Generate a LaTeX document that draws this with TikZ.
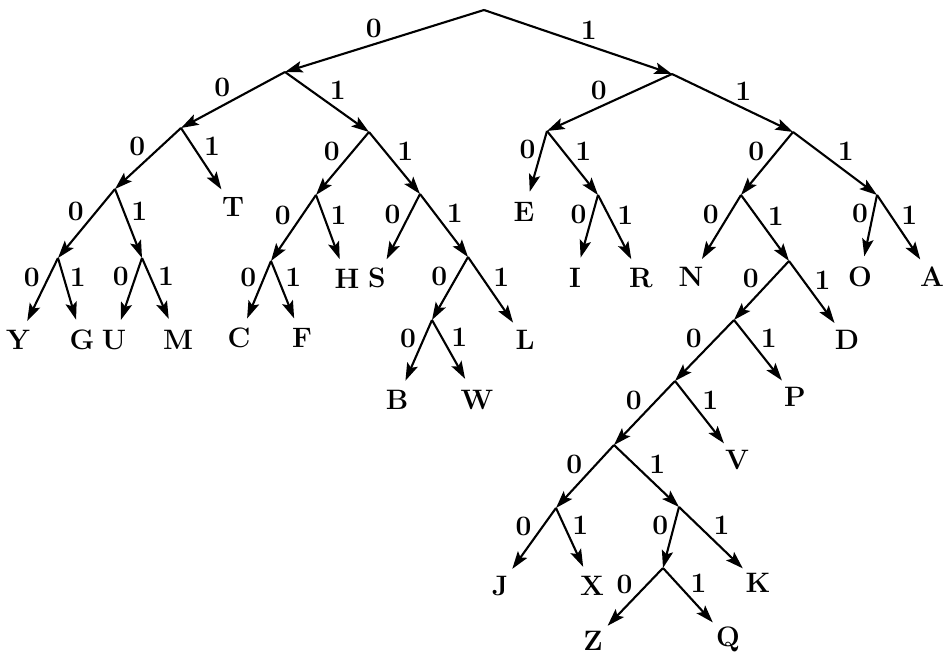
\documentclass[tikz,border=0pt]{standalone}
\usepackage{tikz}
\usetikzlibrary{arrows.meta}

\begin{document}
\begin{tikzpicture}[
    x=0.02cm, y=-0.02cm,
    every node/.style = {font=\fontsize{16}{18}\selectfont\bfseries},
    leaf/.style = {circle, inner sep=0pt, minimum size=18pt, outer sep=3pt},
    branch/.style = {draw=black, line width=1.2pt, -{Stealth[length=10pt, width=6.5pt, inset=2pt]}},
    zero/.style = {auto, swap, pos=0.5, inner sep=1pt},
    one/.style = {auto, pos=0.5, inner sep=1pt}
]

\useasboundingbox (0,0) rectangle (944,655);

% Branch points
\coordinate (c) at (484, 10);
\coordinate (c0) at (285, 72);
\coordinate (c1) at (672, 74);
\coordinate (c00) at (181, 128);
\coordinate (c01) at (369, 132);
\coordinate (c10) at (547, 131);
\coordinate (c11) at (793, 132);
\coordinate (c000) at (115, 189);
\coordinate (c010) at (316, 195);
\coordinate (c011) at (420, 194);
\coordinate (c101) at (598, 195);
\coordinate (c110) at (741, 195);
\coordinate (c111) at (877, 195);
\coordinate (c0000) at (58, 258);
\coordinate (c0001) at (142, 258);
\coordinate (c0100) at (271, 261);
\coordinate (c0111) at (468, 257);
\coordinate (c1101) at (789, 261);
\coordinate (c01110) at (432, 320);
\coordinate (c11010) at (734, 320);
\coordinate (c110100) at (675, 381);
\coordinate (c1101000) at (614, 445);
\coordinate (c11010000) at (556, 508);
\coordinate (c11010001) at (679, 507);
\coordinate (c110100010) at (663, 568);

% Letters
\node (Y) [leaf] at (18, 340) {Y};
\node (G) [leaf] at (82, 340) {G};
\node (U) [leaf] at (114, 340) {U};
\node (M) [leaf] at (178, 340) {M};
\node (T) [leaf] at (233, 207) {T};
\node (C) [leaf] at (239, 338) {C};
\node (F) [leaf] at (302, 338) {F};
\node (H) [leaf] at (347, 279) {H};
\node (S) [leaf] at (377, 278) {S};
\node (B) [leaf] at (397, 400) {B};
\node (W) [leaf] at (477, 400) {W};
\node (L) [leaf] at (525, 340) {L};
\node (E) [leaf] at (524, 212) {E};
\node (I) [leaf] at (575, 278) {I};
\node (R) [leaf] at (641, 278) {R};
\node (N) [leaf] at (691, 277) {N};
\node (O) [leaf] at (860, 277) {O};
\node (A) [leaf] at (932, 277) {A};
\node (D) [leaf] at (847, 340) {D};
\node (P) [leaf] at (795, 397) {P};
\node (V) [leaf] at (737, 460) {V};
\node (J) [leaf] at (500, 586) {J};
\node (X) [leaf] at (592, 586) {X};
\node (K) [leaf] at (758, 583) {K};
\node (Z) [leaf] at (593, 641) {Z};
\node (Q) [leaf] at (728, 639) {Q};

% Branches
\draw [branch] (c) -- node[zero]{0} (c0);
\draw [branch] (c) -- node[one]{1} (c1);
\draw [branch] (c0) -- node[zero]{0} (c00);
\draw [branch] (c0) -- node[one]{1} (c01);
\draw [branch] (c1) -- node[zero]{0} (c10);
\draw [branch] (c1) -- node[one]{1} (c11);
\draw [branch] (c00) -- node[zero]{0} (c000);
\draw [branch] (c00) -- node[one]{1} (T);
\draw [branch] (c01) -- node[zero]{0} (c010);
\draw [branch] (c01) -- node[one]{1} (c011);
\draw [branch] (c10) -- node[zero]{0} (E);
\draw [branch] (c10) -- node[one]{1} (c101);
\draw [branch] (c11) -- node[zero]{0} (c110);
\draw [branch] (c11) -- node[one]{1} (c111);
\draw [branch] (c000) -- node[zero]{0} (c0000);
\draw [branch] (c000) -- node[one]{1} (c0001);
\draw [branch] (c0000) -- node[zero]{0} (Y);
\draw [branch] (c0000) -- node[one]{1} (G);
\draw [branch] (c0001) -- node[zero]{0} (U);
\draw [branch] (c0001) -- node[one]{1} (M);
\draw [branch] (c010) -- node[zero]{0} (c0100);
\draw [branch] (c010) -- node[one]{1} (H);
\draw [branch] (c0100) -- node[zero]{0} (C);
\draw [branch] (c0100) -- node[one]{1} (F);
\draw [branch] (c011) -- node[zero]{0} (S);
\draw [branch] (c011) -- node[one]{1} (c0111);
\draw [branch] (c0111) -- node[zero]{0} (c01110);
\draw [branch] (c0111) -- node[one]{1} (L);
\draw [branch] (c01110) -- node[zero]{0} (B);
\draw [branch] (c01110) -- node[one]{1} (W);
\draw [branch] (c101) -- node[zero]{0} (I);
\draw [branch] (c101) -- node[one]{1} (R);
\draw [branch] (c110) -- node[zero]{0} (N);
\draw [branch] (c110) -- node[one]{1} (c1101);
\draw [branch] (c111) -- node[zero]{0} (O);
\draw [branch] (c111) -- node[one]{1} (A);
\draw [branch] (c1101) -- node[zero]{0} (c11010);
\draw [branch] (c1101) -- node[one]{1} (D);
\draw [branch] (c11010) -- node[zero]{0} (c110100);
\draw [branch] (c11010) -- node[one]{1} (P);
\draw [branch] (c110100) -- node[zero]{0} (c1101000);
\draw [branch] (c110100) -- node[one]{1} (V);
\draw [branch] (c1101000) -- node[zero]{0} (c11010000);
\draw [branch] (c1101000) -- node[one]{1} (c11010001);
\draw [branch] (c11010000) -- node[zero]{0} (J);
\draw [branch] (c11010000) -- node[one]{1} (X);
\draw [branch] (c11010001) -- node[zero]{0} (c110100010);
\draw [branch] (c11010001) -- node[one]{1} (K);
\draw [branch] (c110100010) -- node[zero]{0} (Z);
\draw [branch] (c110100010) -- node[one]{1} (Q);

\end{tikzpicture}
\end{document}
